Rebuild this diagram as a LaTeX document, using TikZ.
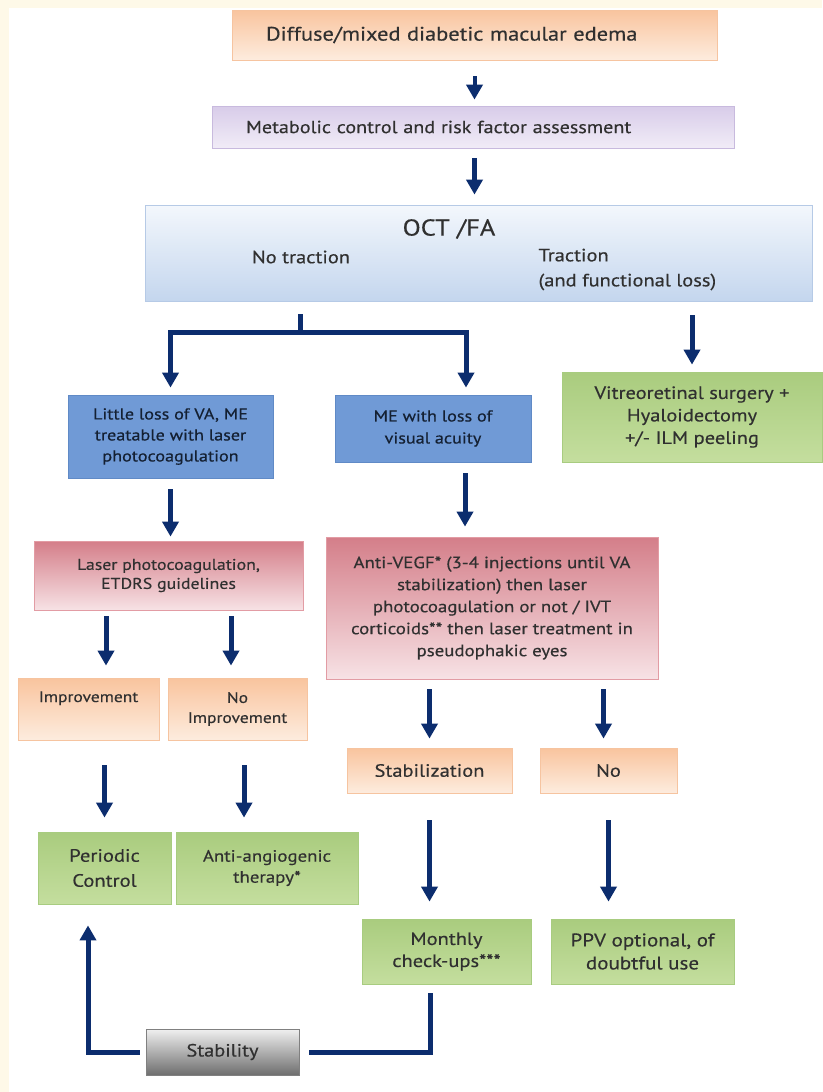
\documentclass[tikz,border=0pt]{standalone}
\usepackage{fontspec}
\setmainfont{PT Sans}[FakeStretch=1.15,FakeBold=0.4]
\usepackage{tikz}
\usepackage{xcolor}
\usetikzlibrary{positioning,arrows.meta}

\newcommand{\boxfont}[2]{\fontsize{#1}{#2}\selectfont}

\definecolor{navy}{RGB}{12,45,110}
\definecolor{txtgray}{RGB}{48,48,48}
\definecolor{txtdark}{RGB}{20,32,50}
\definecolor{cream}{RGB}{254,249,232}
\definecolor{peachdark}{RGB}{249,196,158}
\definecolor{peachlight}{RGB}{253,236,222}
\definecolor{peachline}{RGB}{246,196,160}
\definecolor{lavdark}{RGB}{216,204,233}
\definecolor{lavlight}{RGB}{241,236,247}
\definecolor{lavline}{RGB}{200,186,222}
\definecolor{skylight}{RGB}{243,247,252}
\definecolor{skydark}{RGB}{196,214,238}
\definecolor{skyline}{RGB}{182,202,230}
\definecolor{bluemid}{RGB}{62,108,182}
\definecolor{bluelight}{RGB}{112,154,214}
\definecolor{blueline}{RGB}{96,138,198}
\definecolor{greenmid}{RGB}{148,191,94}
\definecolor{greenlight}{RGB}{196,222,158}
\definecolor{greenline}{RGB}{168,204,128}
\definecolor{pinkdark}{RGB}{212,126,137}
\definecolor{pinklight}{RGB}{247,226,229}
\definecolor{pinkline}{RGB}{226,156,164}
\definecolor{graydark}{RGB}{110,110,110}
\definecolor{graylight}{RGB}{240,240,240}

\begin{document}
\begin{tikzpicture}[x=1pt,y=-1pt,
box/.style={draw,rectangle,line width=0.8pt,inner sep=2pt,align=center,text=txtgray},
peach/.style={box,draw=peachline,top color=peachdark,bottom color=peachlight},
lav/.style={box,draw=lavline,top color=lavdark,bottom color=lavlight},
sky/.style={box,draw=skyline,top color=skylight,bottom color=skydark},
blue/.style={box,draw=blueline,text=txtdark,top color=bluelight,middle color=bluemid,bottom color=bluelight},
green/.style={box,draw=greenline,top color=greenmid!80!white,middle color=greenmid,bottom color=greenlight},
pink/.style={box,draw=pinkline,top color=pinkdark,bottom color=pinklight},
grey/.style={box,draw=gray,top color=graylight,bottom color=graydark},
arr/.style={draw=navy,line width=5pt,-{Triangle[width=16pt,length=15pt]}},
link/.style={draw=navy,line width=5pt}]

\useasboundingbox (0,0) rectangle (822,1092);
\fill[cream] (0,0) rectangle (822,1092);
\fill[white] (9,8) rectangle (822,1092);

% top of the chart
\node (diff) [peach,font=\boxfont{19.5}{24},minimum width=485pt,minimum height=50pt,
    text width=417pt,inner xsep=34pt,align=left] at (474.5,35)
    {Diffuse/mixed diabetic macular edema};
\node (meta) [lav,font=\boxfont{17.5}{21},minimum width=522pt,minimum height=42pt,
    text width=454pt,inner xsep=34pt,align=left] at (473,127)
    {Metabolic control and risk factor assessment};
\node (oct) [sky,minimum width=667pt,minimum height=96pt] at (478.5,253) {};
\node (octfa) [font=\boxfont{23}{27},text=txtgray] at (449,229) {OCT /FA};
\node (notrac) [font=\boxfont{17.8}{25},text=txtgray] at (301,257) {No traction};
\node (trac) [font=\boxfont{17.8}{25},text=txtgray,anchor=west,align=left] at (535,269.5)
    {Traction\\(and functional loss)};

% second level
\node (little) [blue,font=\boxfont{15.8}{21},minimum width=205pt,minimum height=83pt] at (170.5,436.5)
    {Little loss of VA, ME\\treatable with laser\\photocoagulation};
\node (mewith) [blue,font=\boxfont{15.8}{22},minimum width=196pt,minimum height=67pt] at (433,428.5)
    {ME with loss of\\visual acuity};
\node (vitreo) [green,font=\boxfont{17.8}{22.5},minimum width=260pt,minimum height=90pt] at (692,417)
    {Vitreoretinal surgery +\\Hyaloidectomy\\+/- ILM peeling};

% treatments
\node (laser) [pink,font=\boxfont{15.5}{19},minimum width=269pt,minimum height=69pt] at (168.5,575.5)
    {Laser photocoagulation,\\ETDRS guidelines};
\node (antivegf) [pink,font=\boxfont{16.4}{22},minimum width=332pt,minimum height=142pt] at (492,608)
    {Anti-VEGF* (3-4 injections until VA\\stabilization) then laser\\photocoagulation or not / IVT\\corticoids** then laser treatment in\\pseudophakic eyes};

% outcomes
\node (improv) [peach,font=\boxfont{15.2}{20},minimum width=141pt,minimum height=62pt,
    text height=22pt,text depth=36pt] at (88.5,709) {Improvement};
\node (noimprov) [peach,font=\boxfont{15.2}{20},minimum width=139pt,minimum height=62pt] at (237.5,709)
    {No\\Improvement};
\node (stabiliz) [peach,font=\boxfont{17.8}{21},minimum width=165pt,minimum height=45pt] at (429.5,770.5)
    {Stabilization};
\node (no) [peach,font=\boxfont{17.8}{21},minimum width=137pt,minimum height=45pt] at (608.5,770.5)
    {No};

% follow-up
\node (periodic) [green,font=\boxfont{17.9}{25},minimum width=133pt,minimum height=72pt] at (104.5,868)
    {Periodic\\Control};
\node (antiang) [green,font=\boxfont{16.4}{21},minimum width=182pt,minimum height=72pt] at (267,868)
    {Anti-angiogenic\\therapy*};
\node (monthly) [green,font=\boxfont{17.8}{22},minimum width=169pt,minimum height=65pt] at (446.5,951.5)
    {Monthly\\check-ups***};
\node (ppv) [green,font=\boxfont{18.3}{23},minimum width=183pt,minimum height=65pt] at (642.5,951.5)
    {PPV optional, of\\doubtful use};
\node (stability) [grey,font=\boxfont{17.7}{21},minimum width=153pt,minimum height=46pt] at (222.5,1052)
    {Stability};

\coordinate (fork) at (300,332);

% arrows
\draw[arr,line width=4pt,shorten <=16pt,shorten >=6pt] (diff.south) -- (diff.south |- meta.north);
\draw[arr,shorten <=10pt,shorten >=10pt] (meta.south -| diff.south) -- (oct.north -| diff.south);
\draw[link,shorten <=13pt] (oct.south -| fork) -- (fork);
\draw[arr,shorten >=7pt] (fork) -| (little.north);
\draw[arr,shorten >=7pt] (fork) -| ([xshift=33pt]mewith.north);
\draw[arr,shorten <=14pt,shorten >=7pt] (oct.south -| vitreo.north) -- (vitreo.north);
\draw[arr,shorten <=11pt,shorten >=4pt] (little.south) -- (little.south |- laser.north);
\draw[arr,shorten <=11pt,shorten >=10pt] ([xshift=32pt]mewith.south) -- ([xshift=32pt]mewith.south |- antivegf.north);
\draw[arr,shorten <=6pt,shorten >=12pt] ([xshift=-62.5pt]laser.south) -- ([xshift=-62.5pt]laser.south |- improv.north);
\draw[arr,shorten <=6pt,shorten >=12pt] ([xshift=62.5pt]laser.south) -- ([xshift=62.5pt]laser.south |- noimprov.north);
\draw[arr,shorten <=10pt,shorten >=9pt] (stabiliz.north |- antivegf.south) -- (stabiliz.north);
\draw[arr,shorten <=10pt,shorten >=9pt] ([xshift=-5pt]no.north |- antivegf.south) -- ([xshift=-5pt]no.north);
\draw[arr,shorten <=25pt,shorten >=14pt] (periodic.north |- improv.south) -- (periodic.north);
\draw[arr,shorten <=25pt,shorten >=14pt] ([xshift=6.5pt]noimprov.south) -- ([xshift=6.5pt]noimprov.south |- antiang.north);
\draw[arr,shorten <=27pt,shorten >=17pt] (stabiliz.south) -- (stabiliz.south |- monthly.north);
\draw[arr,shorten <=27pt,shorten >=17pt] (no.south) -- (no.south |- ppv.north);
\draw[link,shorten <=9pt,shorten >=10pt] ([xshift=-16.5pt]monthly.south) |- (stability.east);
\draw[arr,shorten <=6pt,shorten >=21pt] (stability.west) -| ([xshift=-16.5pt]periodic.south);
\end{tikzpicture}
\end{document}
